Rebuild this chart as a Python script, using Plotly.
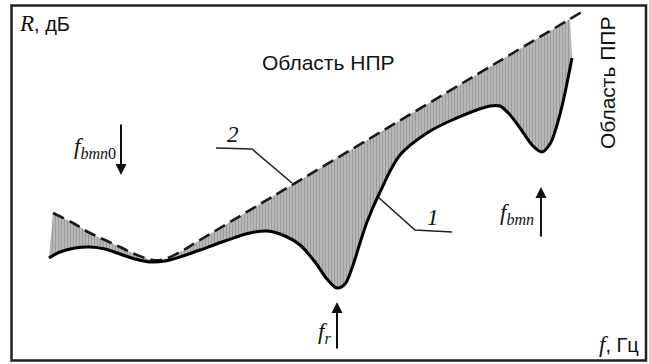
import plotly.graph_objects as go

# Curve 1: measured transmission loss R(f), arbitrary frequency units
f_measured = [49, 60, 75, 90, 105, 120, 135, 150, 165, 183, 200, 225, 250, 267, 285,
              300, 315, 327, 337, 345, 352, 360, 367, 380, 400, 427, 450, 490,
              500, 510, 520, 533, 542, 550, 557, 563, 572]
r_measured = [106, 112, 116, 117, 115, 110, 105, 102, 103, 108, 114, 123, 131, 133, 128,
              119, 102, 85, 76, 80, 96, 121, 142, 172, 209, 231, 243, 258,
              258, 249, 236, 218, 212, 220, 239, 262, 306]

# Curve 2: mass-law (limiting) reference line
f_limit = [53, 73, 90, 107, 120, 137, 153, 165, 180, 200, 570, 582]
r_limit = [151, 141, 131, 123, 117, 109, 104, 105, 112, 124, 345, 352]

# Marker frequencies (f, arrow tail R, arrow head R)
markers = {
    "bmn0": (121, 241, 189),
    "r": (337, 14, 62),
    "bmn": (541, 126, 177),
}

W, H = 649, 364
SERIF = "Liberation Serif"
SANS = "Liberation Sans"

fig = go.Figure()

# hatched band between the two curves
fill_mask = [x <= 570 for x in f_limit]
fig.add_trace(go.Scatter(
    x=f_measured, y=r_measured, mode="lines", line=dict(width=0, shape="spline"),
    hoverinfo="skip", showlegend=False))
fig.add_trace(go.Scatter(
    x=[x for x, m in zip(f_limit, fill_mask) if m],
    y=[y for y, m in zip(r_limit, fill_mask) if m],
    mode="lines", line=dict(width=0, shape="spline"), fill="tonexty",
    fillcolor="#ababab",
    fillpattern=dict(shape="|", bgcolor="#bcbcbc", fgcolor="#7a7a7a",
                     size=3, solidity=0.4),
    hoverinfo="skip", showlegend=False))

# curve 2 (dashed)
fig.add_trace(go.Scatter(
    x=f_limit, y=r_limit, mode="lines",
    line=dict(color="#1a1a1a", width=2.6, dash="12px,6px", shape="spline"),
    showlegend=False))
# curve 1 (solid)
fig.add_trace(go.Scatter(
    x=f_measured, y=r_measured, mode="lines",
    line=dict(color="#000000", width=3, shape="spline"),
    showlegend=False))

shapes = [
    # frame
    dict(type="rect", xref="paper", yref="paper",
         x0=11.5 / W, x1=646 / W, y0=1 - 360.5 / H, y1=1 - 5.5 / H,
         line=dict(color="#222222", width=2.5)),
    # leader for curve 2
    dict(type="path", xref="x", yref="y",
         path="M 216 216 L 252 215 L 292 181", line=dict(color="#222", width=1.6)),
    # leader for curve 1
    dict(type="path", xref="x", yref="y",
         path="M 378 167 L 415 134 L 452 132", line=dict(color="#222", width=1.6)),
]

annotations = [
    dict(x=17, y=341, xref="x", yref="y", xanchor="left", yanchor="middle",
         text=f"<span style='font-family:{SERIF};font-size:23px'><i>R</i></span>, дБ",
         font=dict(family=SANS, size=20, color="#111"), showarrow=False),
    dict(x=328, y=302, xref="x", yref="y", xanchor="center", yanchor="middle",
         text="Область НПР", font=dict(family=SANS, size=21, color="#111"),
         showarrow=False),
    dict(x=607, y=281, xref="x", yref="y", xanchor="center", yanchor="middle",
         text="Область ППР", textangle=-90,
         font=dict(family=SANS, size=21, color="#111"), showarrow=False),
    dict(x=233, y=230, xref="x", yref="y", text="<i>2</i>",
         font=dict(family=SERIF, size=23, color="#111"), showarrow=False),
    dict(x=433, y=147, xref="x", yref="y", text="<i>1</i>",
         font=dict(family=SERIF, size=23, color="#111"), showarrow=False),
    dict(x=641, y=20, xref="x", yref="y", xanchor="right", yanchor="middle",
         text=f"<span style='font-family:{SERIF};font-size:23px'><i>f</i></span>, Гц",
         font=dict(family=SANS, size=20, color="#111"), showarrow=False),
    dict(x=118, y=216, xref="x", yref="y", xanchor="right", yanchor="middle",
         text="<i>f</i><sub><i>bmn</i>0</sub>",
         font=dict(family=SERIF, size=23, color="#111"), showarrow=False),
    dict(x=333, y=31, xref="x", yref="y", xanchor="right", yanchor="middle",
         text="<i>f</i><sub><i>r</i></sub>",
         font=dict(family=SERIF, size=23, color="#111"), showarrow=False),
    dict(x=536, y=150, xref="x", yref="y", xanchor="right", yanchor="middle",
         text="<i>f</i><sub><i>bmn</i></sub>",
         font=dict(family=SERIF, size=23, color="#111"), showarrow=False),
]

for f0, tail, head in markers.values():
    annotations.append(dict(
        x=f0, y=head, ax=f0, ay=tail, xref="x", yref="y", axref="x", ayref="y",
        text="", showarrow=True, arrowhead=2, arrowsize=1.1, arrowwidth=2,
        arrowcolor="#111"))

fig.update_layout(
    width=W, height=H, margin=dict(l=0, r=0, t=0, b=0),
    paper_bgcolor="white", plot_bgcolor="white",
    xaxis=dict(range=[0, W], visible=False, fixedrange=True),
    yaxis=dict(range=[0, H], visible=False, fixedrange=True),
    shapes=shapes, annotations=annotations, showlegend=False,
)

fig.write_html("out.html")
